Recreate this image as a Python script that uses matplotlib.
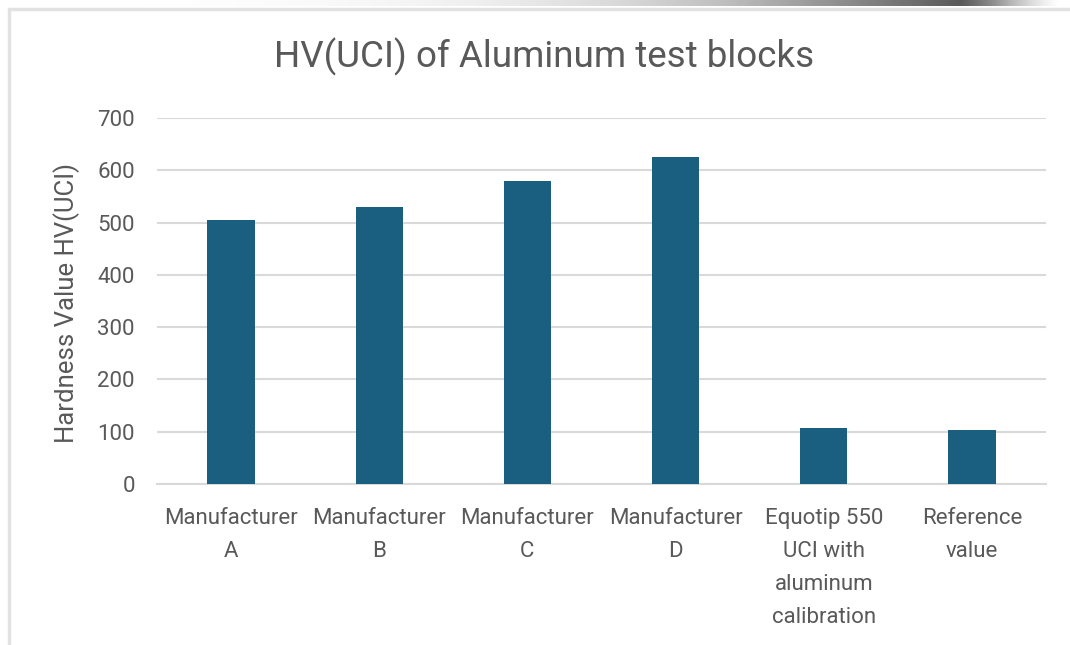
"""
HV(UCI) of Aluminum test blocks - bar chart in Excel style.
"""
import numpy as np
import matplotlib
matplotlib.use("Agg")
import matplotlib.pyplot as plt
from matplotlib.patches import Rectangle

# ── Data ──────────────────────────────────────────────────────────────────────
categories = [
    "Manufacturer\nA",
    "Manufacturer\nB",
    "Manufacturer\nC",
    "Manufacturer\nD",
    "Equotip 550\nUCI with\naluminum\ncalibration",
    "Reference\nvalue",
]
hardness = [505, 530, 579, 625, 107, 103]
yticks = [0, 100, 200, 300, 400, 500, 600, 700]

# ── Style ─────────────────────────────────────────────────────────────────────
BAR_COL = "#1a5e80"
GRID_COL = "#d9d9d9"
TXT_COL = "#595959"
FONT = ["Roboto", "DejaVu Sans"]

W, H, DPI = 1070, 645, 100
fig = plt.figure(figsize=(W / DPI, H / DPI), dpi=DPI)
fig.patch.set_facecolor("white")

# screenshot frame: light border at left/top, dark shadow strip along top
fig.add_artist(Rectangle((9 / W, -0.1), 1.2, (H - 9) / H + 0.1,
                         transform=fig.transFigure, fill=False,
                         ec="#e2e2e2", lw=2.5, zorder=0))
shade = fig.add_axes([60 / W, (H - 6) / H, 1000 / W, 6 / H])
grad = np.linspace(0, 1, 400) ** 2.2
grad[-40:] *= np.linspace(1, 0, 40)
shade.imshow(grad[None, :], aspect="auto", cmap="Greys", vmin=0, vmax=1.1)
shade.axis("off")

# ── Axes ──────────────────────────────────────────────────────────────────────
ax = fig.add_axes([157 / W, (H - 484) / H, (1046 - 157) / W, (484 - 118) / H])
x = np.arange(len(categories))
ax.bar(x, hardness, width=0.32, color=BAR_COL, zorder=3)

ax.set_xlim(-0.5, len(categories) - 0.5)
ax.set_ylim(0, 700)
ax.set_yticks(yticks)
ax.set_yticklabels([str(v) for v in yticks], fontsize=16, color=TXT_COL,
                   family=FONT)
ax.set_xticks(x)
ax.set_xticklabels(categories, fontsize=16, color=TXT_COL, family=FONT,
                   linespacing=1.75, va="top")
ax.tick_params(axis="both", length=0)
ax.tick_params(axis="y", pad=16)
ax.tick_params(axis="x", pad=17)
ax.grid(axis="y", color=GRID_COL, lw=1.5, zorder=0)
for s in ["top", "right", "left"]:
    ax.spines[s].set_visible(False)
ax.spines["bottom"].set_color(GRID_COL)
ax.spines["bottom"].set_linewidth(1.5)

ax.set_ylabel("Hardness Value HV(UCI)", fontsize=18.5, color=TXT_COL,
              family=FONT)
ax.yaxis.set_label_coords(-0.087, 0.495)

fig.text((273 + 815) / 2 / W, 1 - 57 / H, "HV(UCI) of Aluminum test blocks",
         ha="center", va="center", fontsize=26.5, color=TXT_COL, family=FONT)

fig.savefig("out.png", dpi=DPI)
